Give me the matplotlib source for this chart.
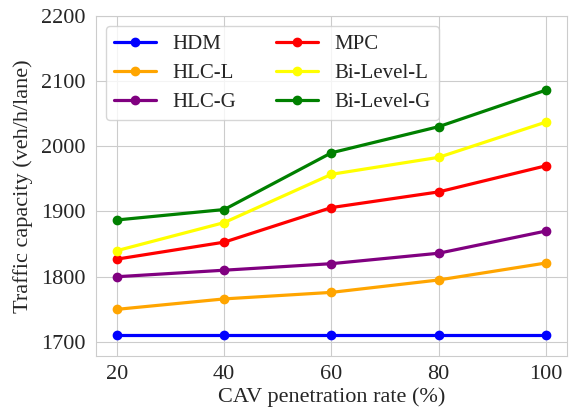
import matplotlib
matplotlib.use("Agg")
import matplotlib.pyplot as plt
import seaborn as sns

# CAV penetration rate (%)
penetration = [20, 40, 60, 80, 100]

# Traffic capacity (veh/h/lane) per method
hdm = [1710, 1710, 1710, 1710, 1710]
hlc_l = [1750, 1766, 1776, 1795, 1821]
hlc_g = [1800, 1810, 1820, 1836, 1870]
mpc = [1827, 1853, 1906, 1930, 1970]
bilevel_l = [1840, 1883, 1957, 1983, 2037]
bilevel_g = [1887, 1903, 1990, 2030, 2086]

series = [
    ("HDM", hdm, "blue"),
    ("HLC-L", hlc_l, "orange"),
    ("HLC-G", hlc_g, "purple"),
    ("MPC", mpc, "red"),
    ("Bi-Level-L", bilevel_l, "yellow"),
    ("Bi-Level-G", bilevel_g, "green"),
]

sns.set_style("whitegrid")
plt.rcParams["font.family"] = ["Liberation Serif", "DejaVu Serif"]

fig = plt.figure(figsize=(5.69, 4.15), dpi=100)
ax = fig.add_axes([0.168, 0.143, 0.829, 0.819])

for name, values, color in series:
    ax.plot(penetration, values, marker="o", color=color, linewidth=2.3,
            markersize=6, label=name)

ax.set_xlim(16, 104)
ax.set_ylim(1679, 2200)
ax.set_xticks(penetration)
ax.set_yticks([1700, 1800, 1900, 2000, 2100, 2200])
ax.tick_params(axis="both", labelsize=16, colors="#262626")
ax.set_xlabel("CAV penetration rate (%)", fontsize=16, color="#262626", labelpad=2)
ax.set_ylabel("Traffic capacity (veh/h/lane)", fontsize=16, color="#262626", labelpad=6)

ax.legend(loc="upper left", ncol=2, fontsize=15, handlelength=2.0,
          columnspacing=1.9, labelspacing=0.45)

fig.savefig("out.png", dpi=100)
